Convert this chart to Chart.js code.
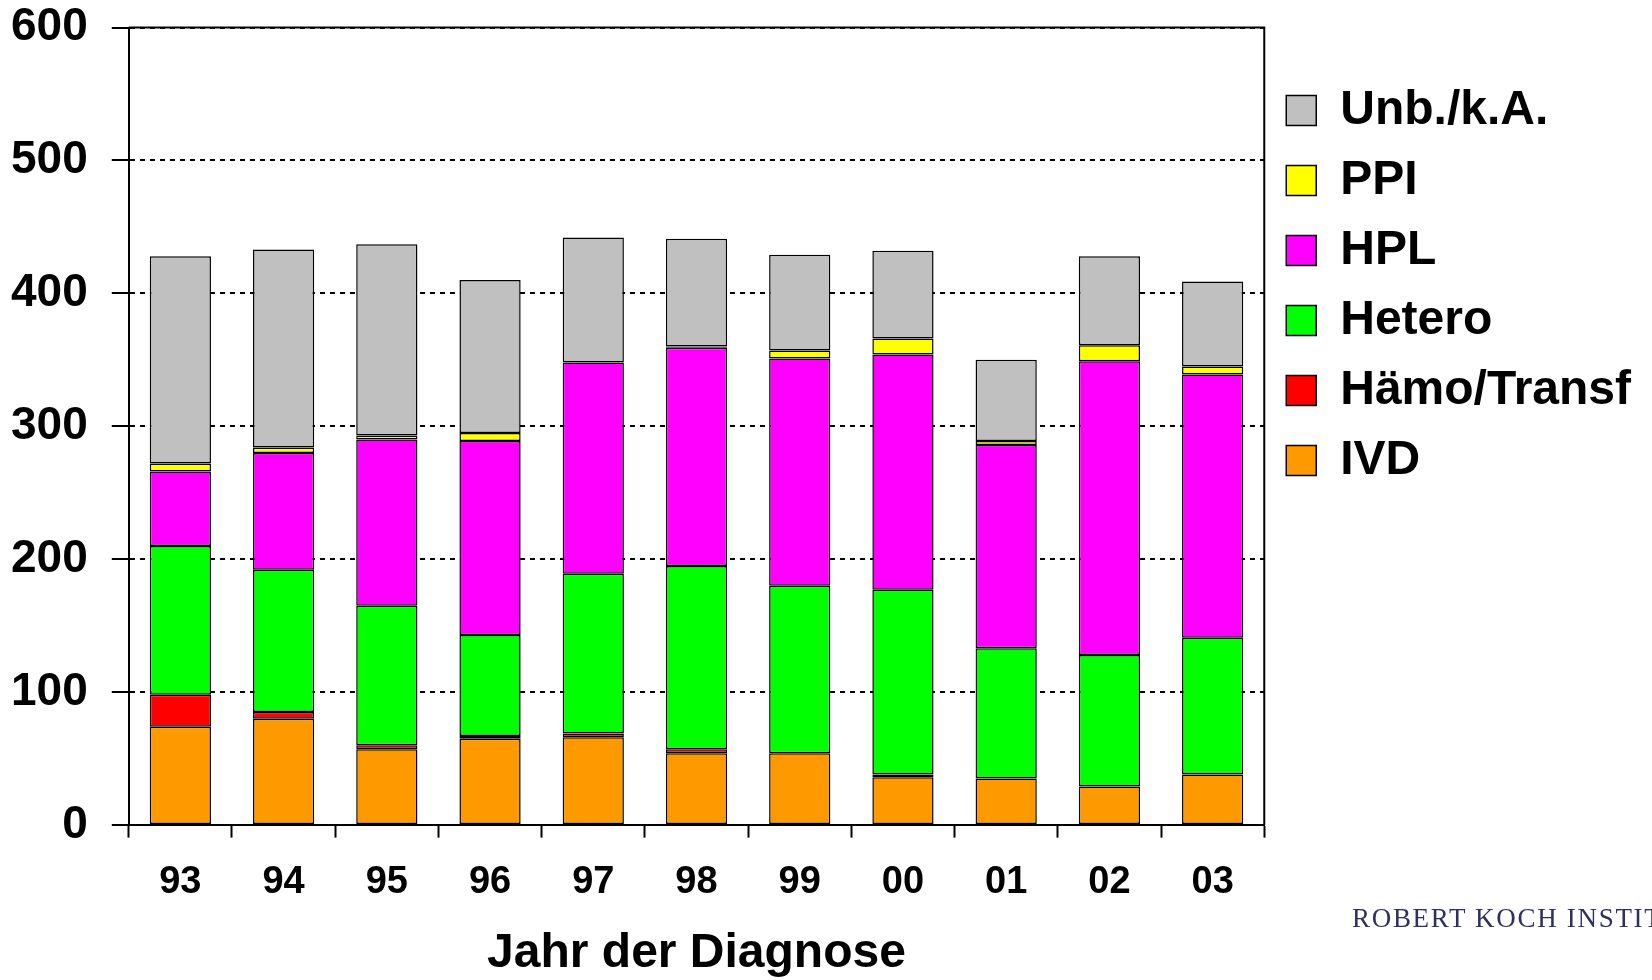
<!DOCTYPE html>
<html>
<head>
<meta charset="utf-8">
<title>Jahr der Diagnose</title>
<script src="https://cdn.jsdelivr.net/npm/chart.js@4/dist/chart.umd.min.js"></script>
<style>
  html, body { margin: 0; padding: 0; background: #fff; overflow: hidden; }
  #wrap { position: relative; width: 1652px; height: 980px; }
  #rki {
    position: absolute; left: 1352px; top: 905px;
    font-family: "Liberation Serif", "DejaVu Serif", serif;
    font-size: 27px; line-height: 1; letter-spacing: 1.7px;
    color: #2e3160; white-space: nowrap;
  }
</style>
</head>
<body>
<div id="wrap">
  <canvas id="diagnoseChart"></canvas>
  <div id="rki">ROBERT KOCH INSTITUT</div>
</div>
<script>
// Jahr der Diagnose (1993-2003)
const years = ["93", "94", "95", "96", "97", "98", "99", "00", "01", "02", "03"];

const ivd = [74, 80, 57, 65, 66, 54, 54, 36, 35, 29, 38];
const haemo = [24, 5, 3, 2, 3, 3, 0, 2, 0, 0, 0];
const hetero = [112, 107, 105, 76, 120, 138, 126, 139, 98, 99, 103];
const hpl = [56, 88, 125, 146, 159, 164, 171, 177, 153, 221, 198];
const ppi = [6, 4, 3, 6, 0, 1, 6, 12, 3, 12, 6];
const unbekannt = [156, 149, 144, 115, 94, 81, 72, 66, 61, 67, 64];

const yTicks = [0, 100, 200, 300, 400, 500, 600];

const FONT = "'Liberation Sans', Arial, sans-serif";

function series(label, data, color) {
  return {
    label: label,
    data: data,
    backgroundColor: color,
    borderColor: "#000",
    borderWidth: 1.5,
    borderSkipped: false,
    barPercentage: 0.593,
    categoryPercentage: 1.0,
  };
}

// solid frame on top and right of the plot area
const plotFrame = {
  id: "plotFrame",
  afterDraw(chart) {
    const { ctx, chartArea } = chart;
    ctx.save();
    ctx.strokeStyle = "#000";
    ctx.lineWidth = 2;
    ctx.beginPath();
    ctx.moveTo(chartArea.left, chartArea.top);
    ctx.lineTo(chartArea.right, chartArea.top);
    ctx.lineTo(chartArea.right, chartArea.bottom);
    ctx.stroke();
    ctx.restore();
  },
};

document.addEventListener("DOMContentLoaded", function () {
  const canvas = document.getElementById("diagnoseChart");

  new Chart(canvas.getContext("2d"), {
    type: "bar",
    data: {
      labels: years,
      datasets: [
        series("IVD", ivd, "#FF9900"),
        series("Hämo/Transf", haemo, "#FF0000"),
        series("Hetero", hetero, "#00FF00"),
        series("HPL", hpl, "#FF00FF"),
        series("PPI", ppi, "#FFFF00"),
        series("Unb./k.A.", unbekannt, "#C0C0C0"),
      ],
    },
    plugins: [plotFrame],
    options: {
      responsive: true,
      maintainAspectRatio: false,
      animation: false,
      layout: { padding: { left: -13, top: 0, right: 11, bottom: 0 } },
      plugins: {
        tooltip: { enabled: false },
        legend: {
          position: "right",
          align: "start",
          reverse: true,
          title: {
            display: true,
            text: "",
            font: { size: 12 },
            padding: { top: 0, bottom: 50 },
          },
          labels: {
            boxWidth: 30,
            boxHeight: 30,
            padding: 22,
            color: "#000",
            font: { family: FONT, size: 48, weight: "bold" },
          },
        },
      },
      scales: {
        x: {
          stacked: true,
          grid: {
            display: true,
            offset: true,
            drawOnChartArea: false,
            drawTicks: true,
            tickLength: 12.5,
            tickColor: "#000",
            tickWidth: 2,
          },
          border: { display: true, color: "#000", width: 2 },
          ticks: {
            color: "#000",
            padding: 22,
            font: { family: FONT, size: 38, weight: "bold" },
          },
          title: {
            display: true,
            text: "Jahr der Diagnose",
            color: "#000",
            font: { family: FONT, size: 48, weight: "bold", lineHeight: 1.1 },
            padding: { top: 0, bottom: 0 },
          },
        },
        y: {
          stacked: true,
          min: 0,
          max: 600,
          afterBuildTicks: function (scale) {
            scale.ticks = yTicks.map((v) => ({ value: v }));
          },
          afterFit: function (scale) {
            // keep only half a label above the top tick
            scale.paddingTop = 27.5;
          },
          grid: {
            color: "#000",
            lineWidth: 2,
            drawTicks: true,
            tickLength: 17,
            tickColor: "#000",
            tickWidth: 2,
            tickBorderDash: [],
          },
          border: { display: true, color: "#000", width: 2, dash: [5, 5] },
          ticks: {
            color: "#000",
            padding: 24,
            font: { family: FONT, size: 46, weight: "bold" },
          },
        },
      },
    },
  });
});
</script>
</body>
</html>
